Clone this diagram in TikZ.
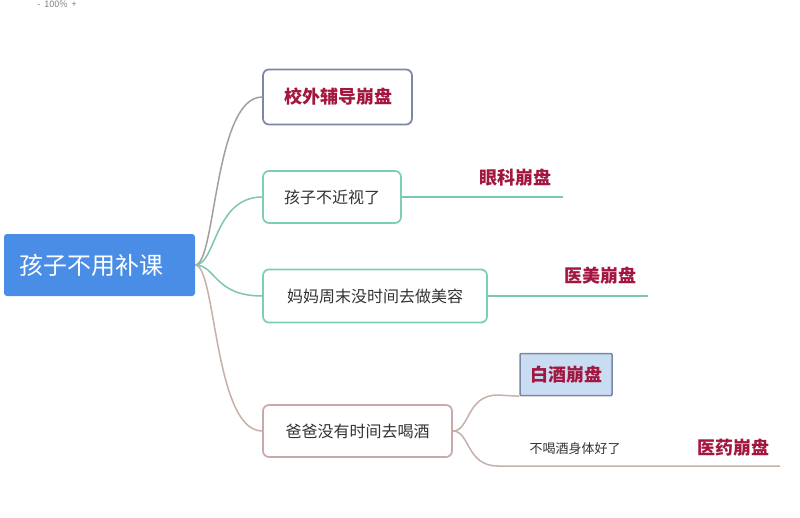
\documentclass[tikz,border=0pt]{standalone}
\usepackage{fontspec}
\setmainfont{Noto Sans CJK SC}
\definecolor{rootc}{HTML}{4A8DE6}
\definecolor{redc}{HTML}{A3163F}
\definecolor{textc}{HTML}{333333}
\definecolor{grayb}{HTML}{7C87A6}
\definecolor{tealb}{HTML}{7ECDB9}
\definecolor{pinkb}{HTML}{C9A9A9}
\definecolor{lineg}{HTML}{A0A0A0}
\definecolor{linet}{HTML}{7CC6B3}
\definecolor{linep}{HTML}{C6B0A9}
\definecolor{wjfill}{HTML}{C8DCF2}
\begin{document}
\begin{tikzpicture}[x=1pt,y=-1pt,
  box/.style={draw, rounded corners=6pt, line width=1.7pt, inner sep=0pt, fill=white, text=textc, font=\fontsize{16}{18}\selectfont},
  lab/.style={text=redc, font=\fontsize{18}{20}\selectfont\bfseries, inner sep=0pt},
  conn/.style={line width=1.5pt}]
\clip (0,0) rectangle (800,517);
\fill[white] (0,0) rectangle (800,517);
\node[text=gray, font=\fontsize{9}{11}\selectfont, inner sep=0pt, anchor=north] (zoomtxt) at (57,0.5) {-\ \ 100\%\ \ +};
% root
\node[draw=none, fill=rootc, rounded corners=3pt, minimum width=191pt, minimum height=62pt, inner sep=0pt] (root) at (99.5,265) {};
\node[text=white, font=\fontsize{24}{26}\selectfont, inner sep=0pt] (roottxt) at (91,265) {孩子不用补课};
% level 1
\node[box, draw=grayb, minimum width=149pt, minimum height=55pt] (b1) at (337.5,97) {};
\node[lab] (b1t) at (338,97) {校外辅导崩盘};
\node[box, draw=tealb, minimum width=138pt, minimum height=52pt] (b2) at (332,197) {孩子不近视了};
\node[box, draw=tealb, minimum width=224pt, minimum height=53pt] (b3) at (375,296) {妈妈周末没时间去做美容};
\node[box, draw=pinkb, minimum width=189pt, minimum height=52pt] (b4) at (357.5,431) {爸爸没有时间去喝酒};
% connectors from root
\draw[conn, lineg] (root.east) .. controls (216,265) and (214,97) .. (b1.west);
\draw[conn, linet] (root.east) .. controls (216,265) and (214,197) .. (b2.west);
\draw[conn, linet] (root.east) .. controls (216,265) and (214,296) .. (b3.west);
\draw[conn, linep] (root.east) .. controls (216,265) and (214,431) .. (b4.west);
% level 2
\coordinate (e2) at (563,197);
\coordinate (e3) at (648,296);
\coordinate (e4) at (780,466);
\coordinate (k4) at (498,466);
\coordinate (k5) at (498,395);
\draw[conn, linet] (b2.east) -- (e2);
\draw[conn, linet] (b3.east) -- (e3);
\node[lab] (l2) at (515,178) {眼科崩盘};
\node[lab] (l3) at (600,276) {医美崩盘};
\node[draw=grayb, line width=1.5pt, fill=wjfill, minimum width=92pt, minimum height=42pt, inner sep=0pt, rounded corners=1pt] (wj) at (566,374.5) {};
\node[lab] (wjt) at (566,375) {白酒崩盘};
\draw[conn, linep] (b4.east) .. controls (470,431) and (466,395) .. (k5) -- (wj.south west);
\draw[conn, linep] (b4.east) .. controls (470,431) and (466,466) .. (k4) -- (e4);
\node[text=textc, font=\fontsize{13}{15}\selectfont, inner sep=0pt] (sm) at (575,449) {不喝酒身体好了};
\node[lab] (l4) at (733,448) {医药崩盘};
\end{tikzpicture}
\end{document}
